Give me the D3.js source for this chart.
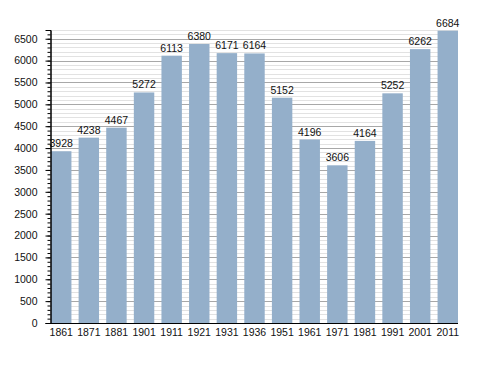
<!DOCTYPE html>
<html>
<head>
<meta charset="utf-8">
<script src="https://cdn.jsdelivr.net/npm/d3@7"></script>
<style>
  body { margin: 0; background: #fff; }
  text { font-family: "Liberation Sans", Arial, sans-serif; font-size: 10.5px; fill: #111; }
</style>
</head>
<body>
<svg width="488" height="373"></svg>
<script>
const years = ["1861", "1871", "1881", "1901", "1911", "1921", "1931", "1936",
  "1951", "1961", "1971", "1981", "1991", "2001", "2011"];
const population = [3928, 4238, 4467, 5272, 6113, 6380, 6171, 6164,
  5152, 4196, 3606, 4164, 5252, 6262, 6684];
const majorTicks = d3.range(0, 6501, 500);
const minorTicks = d3.range(0, 6701, 100);

const svg = d3.select("svg");
const plotLeft = 50, plotRight = 458, plotTop = 30, plotBottom = 323;

const x = d3.scaleBand().domain(years).range([plotLeft + 1, plotRight]).paddingInner(0.26).paddingOuter(0);
const y = d3.scaleLinear().domain([0, 6700]).range([plotBottom, plotTop]);

// grid lines behind bars
svg.append("g")
  .selectAll("line")
  .data(minorTicks.filter((d) => d % 500 !== 0))
  .enter()
  .append("line")
  .attr("x1", plotLeft).attr("x2", plotRight)
  .attr("y1", (d) => Math.round(y(d)) + 0.5).attr("y2", (d) => Math.round(y(d)) + 0.5)
  .attr("stroke", "#e2e2e2");

svg.append("g")
  .selectAll("line")
  .data(majorTicks.filter((d) => d > 0))
  .enter()
  .append("line")
  .attr("x1", plotLeft).attr("x2", plotRight)
  .attr("y1", (d) => Math.round(y(d)) + 0.5).attr("y2", (d) => Math.round(y(d)) + 0.5)
  .attr("stroke", "#a8a8a8");

// bars
svg.append("g")
  .selectAll("rect")
  .data(population)
  .enter()
  .append("rect")
  .attr("x", (d, i) => x(years[i]))
  .attr("y", (d) => y(d))
  .attr("width", x.bandwidth())
  .attr("height", (d) => plotBottom - y(d))
  .attr("fill", "#94afca");

svg.append("g")
  .selectAll("text")
  .data(population)
  .enter()
  .append("text")
  .attr("x", (d, i) => x(years[i]) + x.bandwidth() / 2)
  .attr("y", (d) => y(d) - 4)
  .attr("text-anchor", "middle")
  .text((d) => d);

// y axis
const yAxis = svg.append("g").attr("transform", `translate(${plotLeft + 0.5},0)`);
yAxis.call(d3.axisLeft(y).tickValues(minorTicks).tickSize(3).tickFormat(""));
yAxis.append("g").call(d3.axisLeft(y).tickValues(majorTicks).tickSize(5).tickPadding(8).tickFormat(d3.format("d")));
yAxis.selectAll(".domain").attr("stroke", "#000");
yAxis.selectAll("line").attr("stroke", "#000");
yAxis.selectAll("text").attr("font-family", null).attr("font-size", null).attr("fill", "#111");

// x axis
const xAxis = svg.append("g").attr("transform", `translate(0,${plotBottom + 0.5})`);
xAxis.call(d3.axisBottom(x).tickSize(0).tickPadding(5));
xAxis.select(".domain").attr("d", `M${plotLeft},0H${plotRight}`).attr("stroke", "#000");
xAxis.selectAll("text").attr("font-family", null).attr("font-size", null).attr("fill", "#111");
</script>
</body>
</html>
